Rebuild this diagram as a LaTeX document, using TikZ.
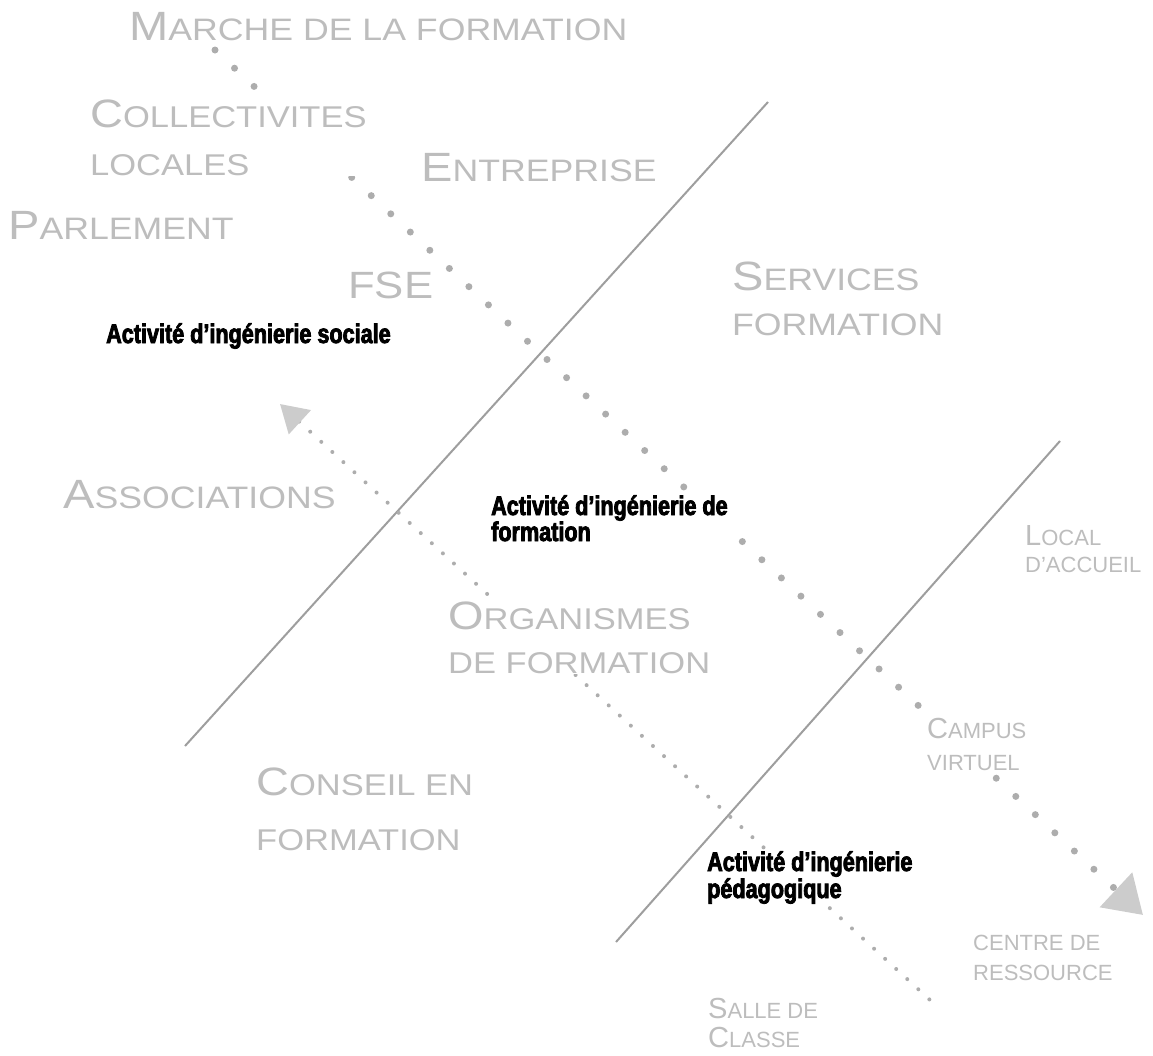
\documentclass[tikz,border=0pt]{standalone}
\usepackage{fontspec}
\usetikzlibrary{arrows.meta}

\newfontfamily\lblfont[FakeStretch=1.15]{Liberation Sans}
\newfontfamily\smlfont{Liberation Sans}
\newfontfamily\actfont[FakeStretch=0.8,FakeBold=3]{Liberation Sans}

\definecolor{lblgrey}{rgb}{0.74, 0.74, 0.74}
\definecolor{linegrey}{rgb}{0.62, 0.62, 0.62}
\definecolor{dotgrey}{rgb}{0.68, 0.68, 0.68}
\definecolor{tipgrey}{rgb}{0.80, 0.80, 0.80}

% bigger first letter, as in small caps
\newcommand{\bigini}[1]{\scalebox{1.32}{#1}}

\begin{document}
\begin{tikzpicture}[x=1pt,y=1pt,yscale=-1,xscale=1,
    biglbl/.style={anchor=north west, inner sep=0pt, fill=white, text=lblgrey, align=left, font=\lblfont\fontsize{31}{46}\selectfont},
    smllbl/.style={anchor=north west, inner sep=0pt, fill=white, text=lblgrey, align=left, font=\smlfont\fontsize{22}{30}\selectfont},
    actlbl/.style={anchor=north west, inner sep=0pt, fill=white, text=black, align=left, font=\actfont\bfseries\fontsize{27}{26}\selectfont},
    bigdots/.style={dotgrey, line width=7pt, line cap=round, dash pattern=on 0pt off 26.7pt},
    smldots/.style={dotgrey, line width=4pt, line cap=round, dash pattern=on 0pt off 15pt}]
		\useasboundingbox (0,0) rectangle (1153,1055);

		% The two grey slanted lines
		\coordinate (l1low) at (185,746);
		\coordinate (l1up) at (768,102);
		\coordinate (l2low) at (616,942);
		\coordinate (l2up) at (1060,441);
		\draw[linegrey, line width=2pt] (l1low) -- (l1up);
		\draw[linegrey, line width=2pt] (l2low) -- (l2up);

		% The big dotted arrow (down to the right)
		\coordinate (mstart) at (215,50);
		\coordinate (mtip) at (1143,915);
		\draw[bigdots, -{Triangle[length=37pt,width=46pt,color=tipgrey]}] (mstart) -- (mtip);

		% The small dotted arrow (up to the left)
		\coordinate (atip) at (280,404);
		\coordinate (aend) at (930,1000);
		\draw[smldots, {Triangle[length=27pt,width=32pt,color=tipgrey]}-] (atip) -- (aend);

		% Grey labels (top part)
		\node (marche) at (129,12) [biglbl] {\bigini{M}ARCHE DE LA FORMATION};
		\node (collectivites) at (90,100) [biglbl, font=\lblfont\fontsize{30}{48}\selectfont] {\bigini{C}OLLECTIVITES\\LOCALES};
		\node (entreprise) at (421,153) [biglbl] {\bigini{E}NTREPRISE};
		\node (parlement) at (8,211) [biglbl] {\bigini{P}ARLEMENT};
		\node (fse) at (348,272) [biglbl, font=\lblfont\fontsize{38}{38}\selectfont] {FSE};
		\node (services) at (732,262) [biglbl, font=\lblfont\fontsize{31}{45}\selectfont] {\bigini{S}ERVICES\\FORMATION};

		% Grey labels (middle part)
		\node (associations) at (63,480) [biglbl] {\bigini{A}SSOCIATIONS};
		\node (organismes) at (448,602) [biglbl, font=\lblfont\fontsize{30}{44}\selectfont] {\bigini{O}RGANISMES\\DE FORMATION};
		\node (conseil) at (256,768) [biglbl, font=\lblfont\fontsize{30}{55}\selectfont] {\bigini{C}ONSEIL EN\\FORMATION};
		\node (local) at (1025,525) [smllbl, font=\smlfont\fontsize{22}{27}\selectfont] {\bigini{L}OCAL\\D’ACCUEIL};
		\node (campus) at (927,718) [smllbl, font=\smlfont\fontsize{22}{32}\selectfont] {\bigini{C}AMPUS\\VIRTUEL};

		% Grey labels (bottom part)
		\node (centre) at (973,935) [smllbl] {CENTRE DE\\RESSOURCE};
		\node (salle) at (708,998) [smllbl, font=\smlfont\fontsize{22}{29}\selectfont] {\bigini{S}ALLE DE\\\bigini{C}LASSE};

		% Black labels for the three activities
		\node (ingsociale) at (106,323) [actlbl] {Activité d’ingénierie sociale};
		\node (ingformation) at (491,495) [actlbl] {Activité d’ingénierie de\\formation};
		\node (ingpedago) at (707,851) [actlbl, font=\actfont\bfseries\fontsize{27}{27}\selectfont] {Activité d’ingénierie\\pédagogique};
\end{tikzpicture}
\end{document}
